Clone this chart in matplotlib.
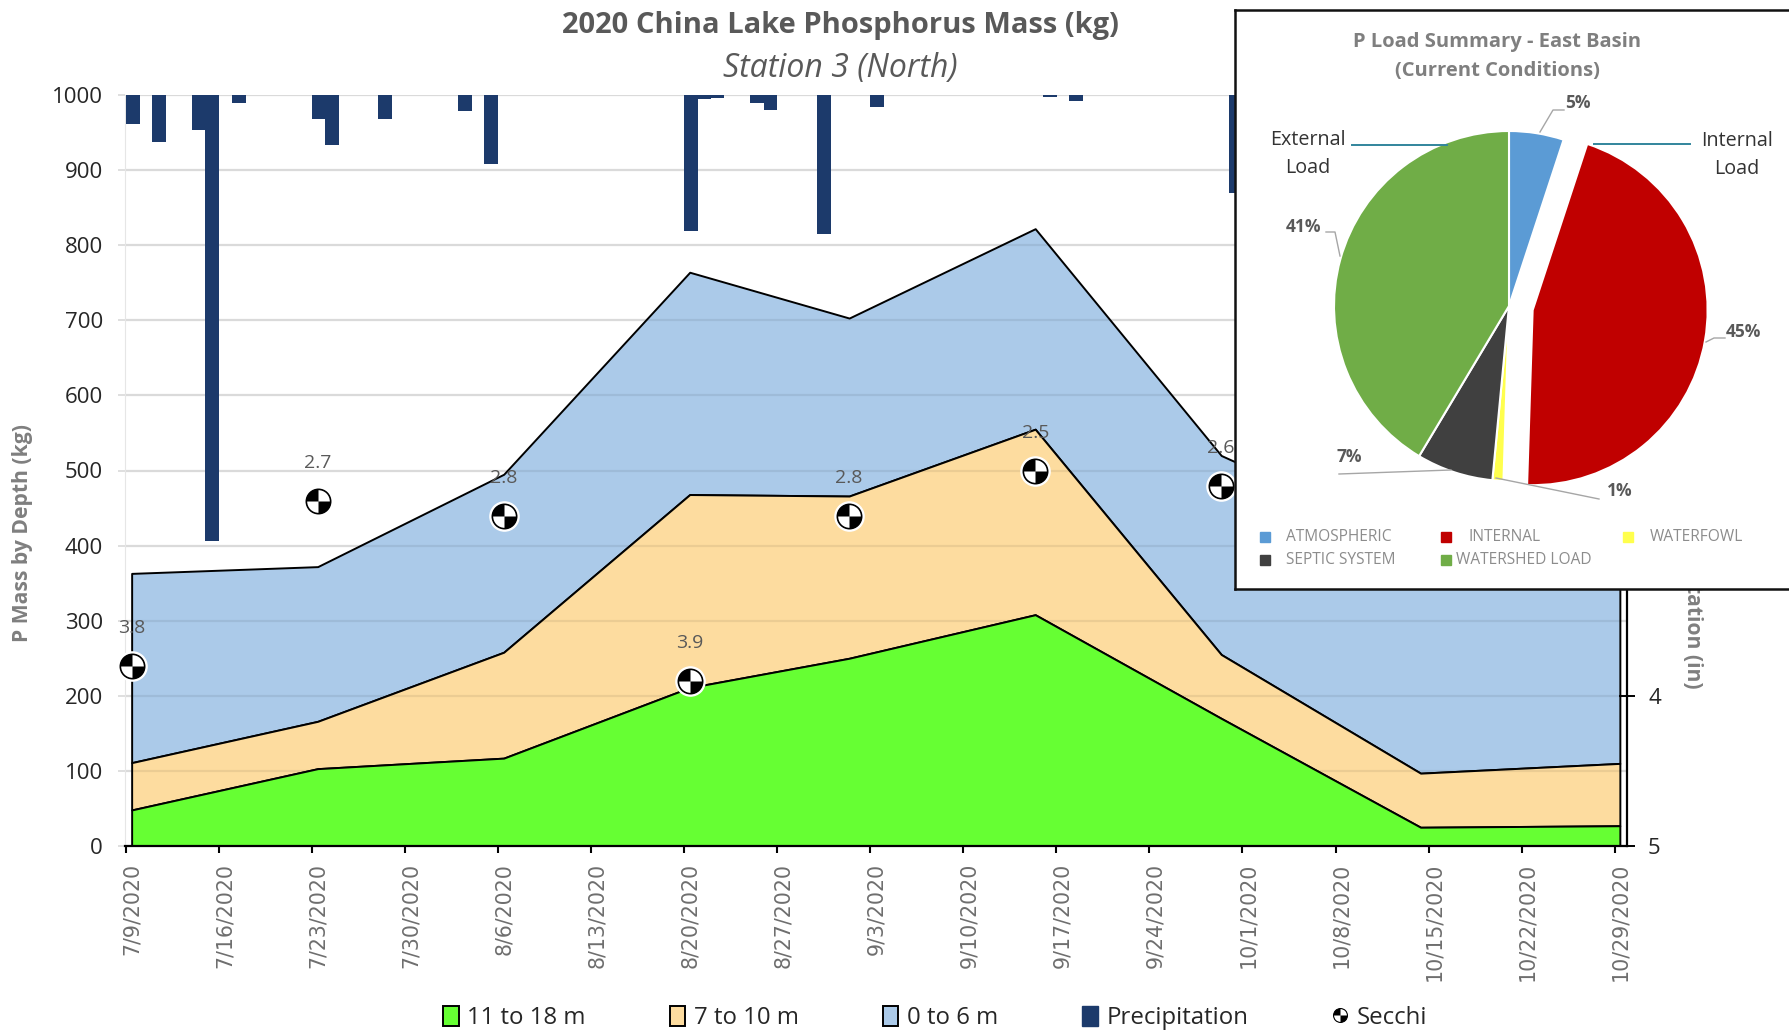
import numpy as np
import pandas as pd
import matplotlib
matplotlib.use("Agg")
import matplotlib.pyplot as plt
from matplotlib.lines import Line2D
from matplotlib.patches import Patch
from matplotlib.path import Path
from matplotlib.legend_handler import HandlerTuple

# area series (kg), one value per sample date
sample_dates = ["7/9/2020", "7/23/2020", "8/6/2020", "8/20/2020", "9/1/2020",
                "9/15/2020", "9/29/2020", "10/14/2020", "10/29/2020"]
mass_deep = [48, 103, 117, 211, 250, 308, 170, 25, 27]
mass_mid = [63, 63, 141, 257, 216, 247, 85, 72, 83]
mass_top = [252, 206, 237, 296, 237, 267, 265, 303, 320]

precip_dates = ["7/9/2020", "7/11/2020", "7/14/2020", "7/15/2020", "7/17/2020",
                "7/23/2020", "7/24/2020", "7/28/2020", "8/3/2020", "8/5/2020",
                "8/20/2020", "8/21/2020", "8/22/2020", "8/25/2020", "8/26/2020",
                "8/30/2020", "9/3/2020", "9/16/2020", "9/18/2020", "9/30/2020"]
precip_in = [0.19, 0.31, 0.235, 2.97, 0.05, 0.16, 0.33, 0.16, 0.105, 0.46,
             0.905, 0.027, 0.018, 0.055, 0.10, 0.925, 0.08, 0.015, 0.04, 0.655]

secchi_dates = ["7/9/2020", "7/23/2020", "8/6/2020", "8/20/2020", "9/1/2020",
                "9/15/2020", "9/29/2020"]
secchi_m = [3.8, 2.7, 2.8, 3.9, 2.8, 2.5, 2.6]

tick_dates = ["7/9/2020", "7/16/2020", "7/23/2020", "7/30/2020", "8/6/2020",
              "8/13/2020", "8/20/2020", "8/27/2020", "9/3/2020", "9/10/2020",
              "9/17/2020", "9/24/2020", "10/1/2020", "10/8/2020", "10/15/2020",
              "10/22/2020", "10/29/2020"]

pie_names = ["ATMOSPHERIC", "INTERNAL", "WATERFOWL", "SEPTIC SYSTEM", "WATERSHED LOAD"]
pie_vals = [5, 45, 1, 7, 41]
pie_cols = ["#5B9BD5", "#C00000", "#FFFF4D", "#404040", "#70AD47"]

W, H = 1789, 1030
plt.rcParams["font.family"] = ["Open Sans", "DejaVu Sans"]


def day_num(dates):
    d = pd.to_datetime(pd.Series(dates), format="%m/%d/%Y")
    return (d - pd.Timestamp("2020-07-09")).dt.days.to_numpy()


def rect(l, t, r, b):
    # pixel box, top left origin -> figure fractions
    return [l / W, 1 - b / H, (r - l) / W, (b - t) / H]


def ftext(px, py, s, **kw):
    fig.text(px / W, 1 - py / H, s, **kw)


fig = plt.figure(figsize=(W / 100, H / 100), dpi=100)
ax = fig.add_axes(rect(125, 95, 1626.5, 846))

x_area = day_num(sample_dates) + 0.5
polys = ax.stackplot(x_area, mass_deep, mass_mid, mass_top,
                     colors=["#66FF33", "#FDDC9F", "#ABCAE9"],
                     edgecolor="black", linewidth=1.4)
polys[0].set_zorder(3)
polys[1].set_zorder(2.2)
polys[2].set_zorder(2)

ax.set_xlim(0, 113)
ax.set_ylim(0, 1000)
ax.set_yticks(range(0, 1001, 100))
ax.set_axisbelow(True)
ax.yaxis.grid(True, color="#ebebeb", linewidth=1.6)
# faint grid showing through the blue and orange areas
ax.hlines(range(100, 1001, 100), 0, 113, color="black", alpha=0.07, linewidth=1.6, zorder=2.5)

tick_x = day_num(tick_dates)
ax.set_xticks(tick_x + 0.1)
ax.set_xticklabels([])
ax.set_xticks(tick_x + 0.5, labels=tick_dates, minor=True)
ax.tick_params(axis="x", which="major", length=5, width=1.5, color="black")
ax.tick_params(axis="x", which="minor", length=0, pad=12, labelrotation=90,
               labelsize=14.8, labelcolor="#6e6e6e")
for t in ax.get_xticklabels(minor=True):
    t.set_family("DejaVu Sans")
ax.tick_params(axis="y", length=5, width=1.2, color="#d9d9d9", pad=11,
               labelsize=16, labelcolor="#262626")
for s in ["top", "right"]:
    ax.spines[s].set_visible(False)
ax.spines["left"].set_color("#e6e6e6")
ax.spines["bottom"].set_linewidth(1.6)
ax.spines["bottom"].set_zorder(5)

# second axis, inches, runs downward
ax2 = ax.twinx()
ax2.set_ylim(5, 0)
ax2.bar(day_num(precip_dates) + 0.58, precip_in, width=1.05, color="#1C3A6B", zorder=2)
ax2.set_yticks(range(0, 6))
ax2.tick_params(axis="y", direction="inout", length=11, width=1.4, pad=10,
                labelsize=16, labelcolor="#262626")
for s in ["top", "left", "bottom"]:
    ax2.spines[s].set_visible(False)
ax2.spines["right"].set_linewidth(1.6)

x_sec = day_num(secchi_dates) + 0.5
quarters = Path.make_compound_path(Path.wedge(90, 180), Path.wedge(270, 360))
ax2.plot(x_sec, secchi_m, ls="", marker="o", ms=21, mfc="white", mec="white", clip_on=False, zorder=4)
ax2.plot(x_sec, secchi_m, ls="", marker="o", ms=17.5, mfc="white", mec="black", mew=1.2, clip_on=False, zorder=5)
ax2.plot(x_sec, secchi_m, ls="", marker=quarters, ms=17.5, mfc="black", mec="black", mew=0, clip_on=False, zorder=6)
for xx, yy in zip(x_sec, secchi_m):
    ax2.annotate(f"{yy}", (xx, yy), xytext=(0, 27), textcoords="offset points",
                 ha="center", va="center", fontsize=14, color="#595959", zorder=7)

ftext(840, 25, "2020 China Lake Phosphorus Mass (kg)", ha="center", va="center",
      fontsize=21, fontweight="bold", color="#595959")
ftext(840, 68, "Station 3 (North)", ha="center", va="center",
      fontsize=23, fontstyle="italic", color="#595959")
ftext(23, 533, "P Mass by Depth (kg)", rotation=90, ha="center", va="center",
      fontsize=15.2, fontweight="bold", color="#7f7f7f")
ftext(1693, 689, "Precipitation (in)", rotation=270, ha="center", va="bottom",
      fontsize=15.2, fontweight="bold", color="#7f7f7f")

secchi_white = Line2D([], [], ls="", marker="o", ms=10, mfc="white", mec="black", mew=0.8)
secchi_black = Line2D([], [], ls="", marker=quarters, ms=10, mfc="black", mec="black", mew=0)
handles = [Patch(fc="#66FF33", ec="black", lw=1.4),
           Patch(fc="#FDDC9F", ec="black", lw=1.4),
           Patch(fc="#ABCAE9", ec="black", lw=1.4),
           Patch(fc="#1C3A6B", ec="#1C3A6B"),
           (secchi_white, secchi_black)]
fig.legend(handles, ["11 to 18 m", "7 to 10 m", "0 to 6 m", "Precipitation", "Secchi"],
           handler_map={tuple: HandlerTuple(ndivide=1)}, ncols=5, frameon=False,
           loc="center", bbox_to_anchor=(935 / W, 1 - 1018 / H), fontsize=17.3,
           handlelength=0.65, handleheight=0.9, handletextpad=0.35, columnspacing=3.5,
           labelcolor="#262626")

# inset pie, axes in pixels with y up
ins_l, ins_t, ins_b = 1235, 9.6, 589
ins = fig.add_axes(rect(ins_l, ins_t, W + 3, ins_b), zorder=10)
cx, cy, rad = 1509, H - 306, 175
ins.pie(pie_vals, colors=pie_cols, startangle=90, counterclock=False, center=(cx, cy),
        radius=rad, explode=[0, 24, 0, 0, 0], frame=True,
        wedgeprops={"edgecolor": "white", "linewidth": 1.5})
ins.set_aspect("auto")
ins.set_xlim(ins_l, W + 3)
ins.set_ylim(H - ins_b, H - ins_t)
ins.set_xticks([])
ins.set_yticks([])
ins.set_facecolor("white")
for s in ins.spines.values():
    s.set_linewidth(1.8)
    s.set_color("#111111")


def itext(px, py, s, **kw):
    ins.text(px, H - py, s, ha="center", va="center", **kw)


def iline(xs, ys, **kw):
    ins.plot(xs, [H - v for v in ys], **kw)


itext(1497, 41.5, "P Load Summary - East Basin", fontsize=14.5, fontweight="bold", color="#7f7f7f")
itext(1497, 71, "(Current Conditions)", fontsize=14.5, fontweight="bold", color="#7f7f7f")
itext(1308, 154, "External\nLoad", fontsize=14.2, color="#333333", linespacing=1.55)
itext(1737, 155, "Internal\nLoad", fontsize=14.2, color="#333333", linespacing=1.55)
iline([1352, 1447], [145, 145], color="#31859C", lw=1.4)
iline([1594, 1690], [144, 144], color="#31859C", lw=1.4)

pct = {"5%": (1578, 103), "45%": (1743, 332), "41%": (1304, 227), "7%": (1349, 457), "1%": (1620, 491)}
for k, (px, py) in pct.items():
    itext(px, py, k, fontsize=12.5, fontweight="bold", color="#595959")
lead = "#a6a6a6"
iline([1540, 1553, 1564], [132, 110, 110], color=lead, lw=1)
iline([1706, 1714, 1725], [342, 338, 338], color=lead, lw=1)
iline([1340, 1335, 1326], [256, 232, 232], color=lead, lw=1)
iline([1451, 1339], [470, 474], color=lead, lw=1)
iline([1496, 1599], [478, 499], color=lead, lw=1)

marker_x = [1265, 1446, 1628, 1265, 1446]
marker_y = [537, 537, 537, 560, 560]
label_x = [1286, 1468, 1650, 1286, 1456]
for name, col, mx, my, lx in zip(pie_names, pie_cols, marker_x, marker_y, label_x):
    ins.plot([mx], [H - my], ls="", marker="s", ms=6.5, color=col)
    ins.text(lx, H - my, name, ha="left", va="center", fontsize=11.2, color="#8c8c8c")

fig.savefig("out.png", dpi=100)
